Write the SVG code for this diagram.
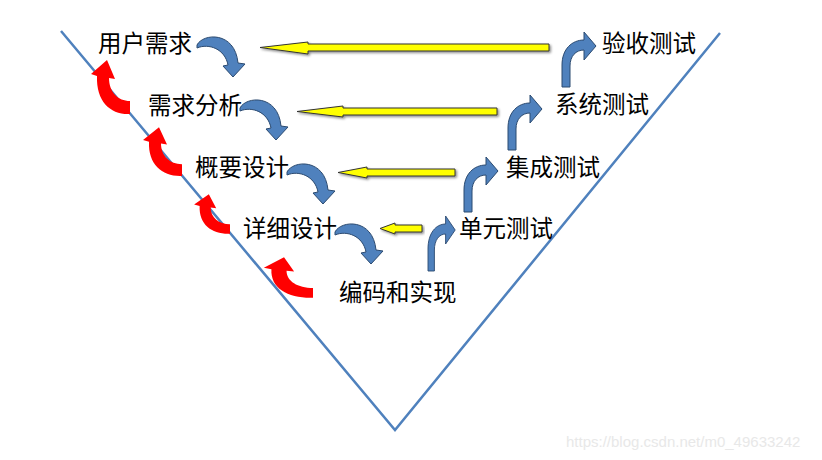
<svg xmlns="http://www.w3.org/2000/svg" width="822" height="460" viewBox="0 0 822 460">
<defs>
<style>
.lbl{font-family:"Noto Sans CJK SC","Liberation Serif",serif;font-size:23.5px;fill:#000}
.vline{stroke:#4F81BD;stroke-width:2.5;fill:none}
.blue{fill:#4F81BD;stroke:#2B4A70;stroke-width:1}
.red{fill:#FF0000;stroke:none}
.yel{fill:#FFFF00;stroke:#333;stroke-width:1;filter:url(#sh)}
.wm{font-family:"Liberation Sans",Arial,sans-serif;font-size:15px;fill:#e8e8e8}
</style>
<filter id="sh" x="-5%" y="-50%" width="110%" height="200%">
<feDropShadow dx="1.5" dy="1.5" stdDeviation="0.8" flood-color="#000" flood-opacity="0.45"/>
</filter>
<path id="dn" d="M0,0 C6,-12 38,-14 41,18 L48,19 L36,32 L26,21 L31,20 C28,4 12,-2 0,3 Z"/>
<path id="up" d="M0,0 L0,-22 C0,-38 10,-47 22,-47 L22,-55 L34,-41 L22,-27 L22,-37 C14,-37 8,-31 8,-21 L8,0 Z"/>
<path id="rd" d="M0,1 C-19,2 -34,-11 -33,-37 L-39,-39 L-23,-53 L-15,-34 L-21,-35 C-21,-21 -12,-12 0,-12 Z"/>
</defs>
<rect width="822" height="460" fill="#fff"/>
<g id="connectors">
<path class="vline" d="M61,31 L395,430 L720,33"/>
<g id="yellow">
<path class="yel" d="M260,47.5 L308,42 L308,44 L549,44 L549,51 L308,51 L308,54 Z"/>
<path class="yel" d="M297,111.5 L343,106 L343,108 L497,108 L497,115 L343,115 L343,117 Z"/>
<path class="yel" d="M338,172.5 L367,167 L367,169 L455,169 L455,176 L367,176 L367,178 Z"/>
<path class="yel" d="M380,228.5 L395,223 L395,225 L422,225 L422,232 L395,232 L395,234 Z"/>
</g>
<g id="down-arrows">
<use href="#dn" class="blue" transform="translate(197,45)"/>
<use href="#dn" class="blue" transform="translate(240,108)"/>
<use href="#dn" class="blue" transform="translate(287,172)"/>
<use href="#dn" class="blue" transform="translate(335,232)"/>
</g>
<g id="up-arrows">
<use href="#up" class="blue" transform="translate(562,87)"/>
<use href="#up" class="blue" transform="translate(508,150)"/>
<use href="#up" class="blue" transform="translate(464,212)"/>
<use href="#up" class="blue" transform="translate(428,271) scale(0.8,1)"/>
</g>
<g id="red-arrows">
<use href="#rd" class="red" transform="translate(130,113)"/>
<use href="#rd" class="red" transform="translate(182,175) scale(1,0.9)"/>
<use href="#rd" class="red" transform="translate(230,233) scale(0.92,0.73)"/>
<use href="#rd" class="red" transform="translate(313,297) scale(1.26,0.75)"/>
</g>
</g>
<g id="n1"><text class="lbl" x="98" y="51.5">用户需求</text></g>
<g id="n2"><text class="lbl" x="148" y="113.5">需求分析</text></g>
<g id="n3"><text class="lbl" x="195" y="175.5">概要设计</text></g>
<g id="n4"><text class="lbl" x="243" y="236.5">详细设计</text></g>
<g id="n5"><text class="lbl" x="339" y="300.5">编码和实现</text></g>
<g id="n6"><text class="lbl" x="459" y="237">单元测试</text></g>
<g id="n7"><text class="lbl" x="506" y="176">集成测试</text></g>
<g id="n8"><text class="lbl" x="555" y="113">系统测试</text></g>
<g id="n9"><text class="lbl" x="602" y="52">验收测试</text></g>
<text class="wm" x="566" y="447">https://blog.csdn.net/m0_49633242</text>
</svg>
